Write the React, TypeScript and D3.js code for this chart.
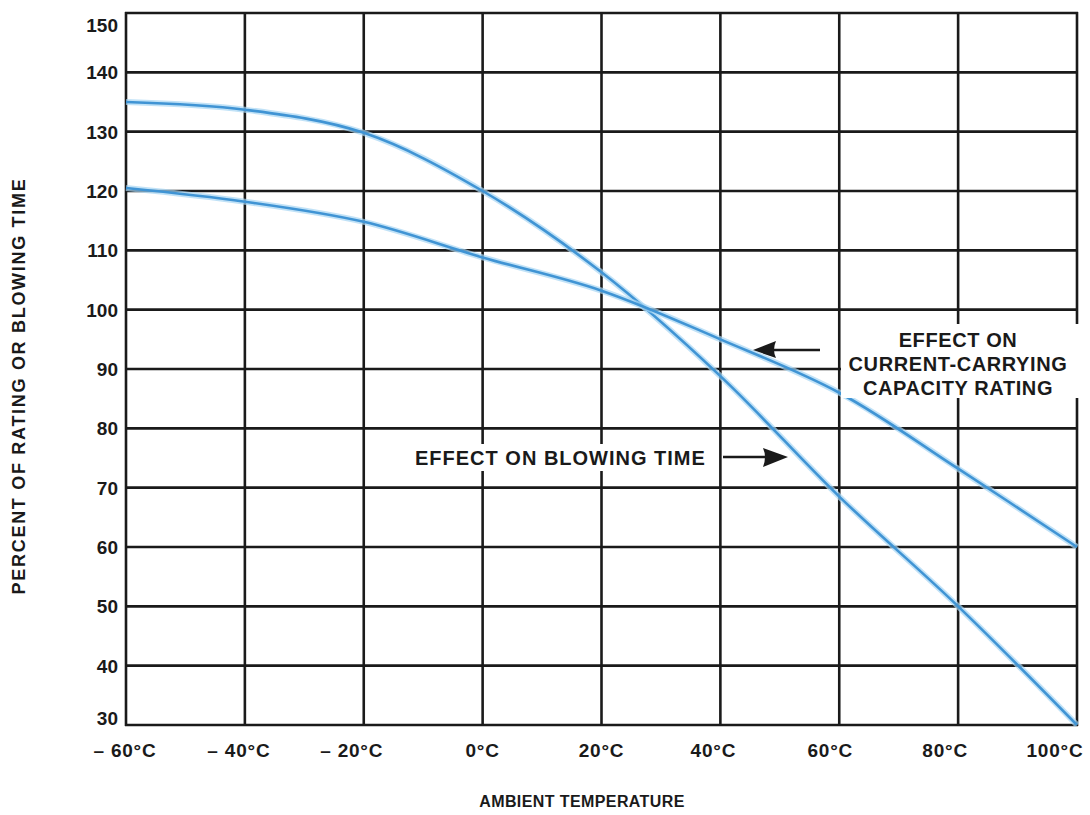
import React from "react";
import * as d3 from "d3";

const xTicks = [-60, -40, -20, 0, 20, 40, 60, 80, 100];
const xTickLabels = ["– 60°C", "– 40°C", "– 20°C", "0°C", "20°C", "40°C", "60°C", "80°C", "100°C"];
const yTicks = [30, 40, 50, 60, 70, 80, 90, 100, 110, 120, 130, 140, 150];

const blowingTemps = [-60, -40, -20, 0, 20, 40, 60, 80, 100];
const blowingValues = [135, 133.7, 129.8, 120, 106.3, 88.8, 68.5, 50, 30];

const ratingTemps = [-60, -40, -20, 0, 20, 40, 60, 80, 100];
const ratingValues = [120.5, 118.2, 114.8, 108.8, 103.2, 95, 86, 73.2, 60];

const ratingLabel = ["EFFECT ON", "CURRENT-CARRYING", "CAPACITY RATING"];
const blowingLabel = "EFFECT ON BLOWING TIME";
const xTitle = "AMBIENT TEMPERATURE";
const yTitle = "PERCENT OF RATING OR BLOWING TIME";

const W = 1090;
const H = 815;
const FONT = "'Liberation Sans', Arial, Helvetica, sans-serif";

export default function App() {
  const x = d3.scaleLinear().domain([-60, 100]).range([126, 1077]);
  const y = d3.scaleLinear().domain([30, 150]).range([725, 13]);

  const line = d3
    .line<[number, number]>()
    .x((d) => x(d[0]))
    .y((d) => y(d[1]))
    .curve(d3.curveCatmullRom.alpha(0.5));

  const blowingPath = line(blowingTemps.map((t, i) => [t, blowingValues[i]] as [number, number])) || "";
  const ratingPath = line(ratingTemps.map((t, i) => [t, ratingValues[i]] as [number, number])) || "";

  const ink = "#1a1a1a";
  const gridW = 2.6;

  return (
    <svg
      width={W}
      height={H}
      style={{ position: "absolute", left: 0, top: 0, background: "#fff" }}
      fontFamily={FONT}
      fontWeight="bold"
    >
      <rect x={0} y={0} width={W} height={H} fill="#fff" />
      {/* grid */}
      {yTicks.map((v) => (
        <line key={"h" + v} x1={x(-60) - 1} x2={x(100) + 1} y1={y(v)} y2={y(v)} stroke={ink} strokeWidth={gridW} />
      ))}
      {xTicks.map((v) => (
        <line key={"v" + v} x1={x(v)} x2={x(v)} y1={y(150) - 1} y2={y(30) + 1} stroke={ink} strokeWidth={gridW} />
      ))}

      {/* curves */}
      {[blowingPath, ratingPath].map((p, i) => (
        <g key={"c" + i}>
          <path d={p} fill="none" stroke="#a6d6f4" strokeWidth={6} strokeOpacity={0.7} />
          <path d={p} fill="none" stroke="#4094d4" strokeWidth={2.6} />
        </g>
      ))}

      {/* label backgrounds */}
      <rect x={841} y={324} width={248} height={74} fill="#fff" />
      <rect x={410} y={444} width={302} height={27} fill="#fff" />

      {/* annotation: rating */}
      {ratingLabel.map((s, i) => (
        <text
          key={"rl" + i}
          x={958}
          y={347 + i * 24}
          textAnchor="middle"
          fontSize={20}
          letterSpacing={0.6}
          fill={ink}
        >
          {s}
        </text>
      ))}
      <line x1={820} x2={770} y1={350} y2={350} stroke={ink} strokeWidth={2.4} />
      <path d="M753,350 L776,341 Q772,350 776,358 Z" fill={ink} />

      {/* annotation: blowing */}
      <text x={415} y={465} fontSize={20} letterSpacing={1} fill={ink}>
        {blowingLabel}
      </text>
      <line x1={723} x2={768} y1={457} y2={457} stroke={ink} strokeWidth={2.4} />
      <path d="M788,457 L763,448 Q767,457 763,467 Z" fill={ink} />

      {/* y tick labels */}
      {yTicks.map((v) => {
        let yy = y(v) + 7;
        if (v === 150) yy = y(v) + 19;
        if (v === 30) yy = y(v) - 0;
        return (
          <text key={"yl" + v} x={118} y={yy} textAnchor="end" fontSize={19} fill={ink}>
            {v}
          </text>
        );
      })}

      {/* x tick labels */}
      {xTicks.map((v, i) => {
        let xx = x(v);
        const offs: Record<number, number> = { [-60]: -1, [-40]: -6, [-20]: -12, 0: 0, 20: 0, 40: -7, 60: -9, 80: -13, 100: -22 };
        xx += offs[v] ?? 0;
        return (
          <text key={"xl" + v} x={xx} y={757} textAnchor="middle" fontSize={19} letterSpacing={0.8} fill={ink}>
            {xTickLabels[i]}
          </text>
        );
      })}

      {/* axis titles */}
      <text x={582} y={807} textAnchor="middle" fontSize={16} letterSpacing={0.4} fill={ink}>
        {xTitle}
      </text>
      <text
        transform={`translate(25,386) rotate(-90)`}
        textAnchor="middle"
        fontSize={18}
        letterSpacing={1.7}
        fill={ink}
      >
        {yTitle}
      </text>
    </svg>
  );
}
